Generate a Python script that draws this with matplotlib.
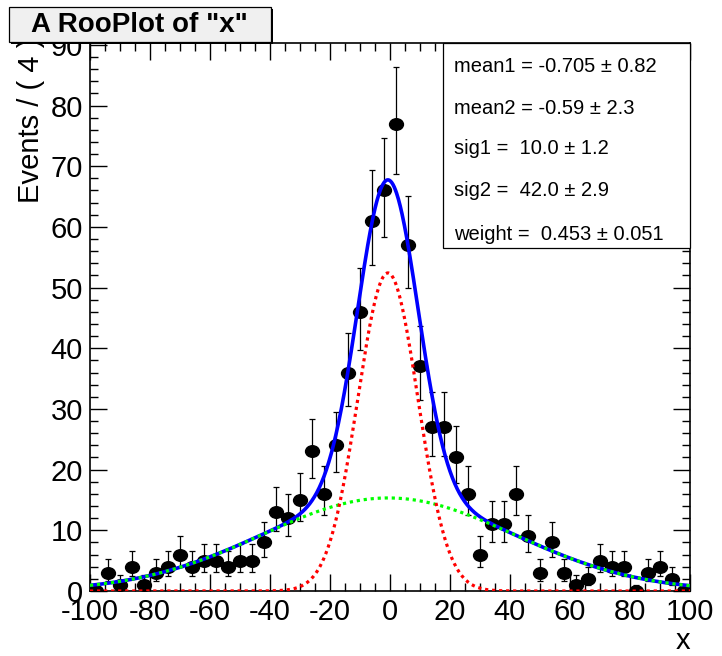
import math
import numpy as np
import matplotlib
matplotlib.use("Agg")
import matplotlib.pyplot as plt
from matplotlib.patches import Rectangle
from matplotlib.path import Path
from matplotlib.transforms import Affine2D
from matplotlib.ticker import MultipleLocator

plt.rcParams['font.family'] = ['Liberation Sans', 'DejaVu Sans']
plt.rcParams['axes.unicode_minus'] = False

# binned data: 50 bins of width 4 on [-100, 100]
bin_lo = -100
bin_width = 4
counts = [0, 3, 1, 4, 1, 3, 4, 6, 4, 5,
          5, 4, 5, 5, 8, 13, 12, 15, 23, 16,
          24, 36, 46, 61, 66, 77, 57, 37, 27, 27,
          22, 16, 6, 11, 11, 16, 9, 3, 8, 3,
          1, 2, 5, 4, 4, 0, 3, 4, 2, 0]

# fit results shown in the box
mean1, mean1_err = -0.705, 0.82
mean2, mean2_err = -0.59, 2.3
sig1, sig1_err = 10.0, 1.2
sig2, sig2_err = 42.0, 2.9
weight, weight_err = 0.453, 0.051

param_lines = [
    "mean1 = %.3f \u00b1 %.2f" % (mean1, mean1_err),
    "mean2 = %.2f \u00b1 %.1f" % (mean2, mean2_err),
    "sig1 =  %.1f \u00b1 %.1f" % (sig1, sig1_err),
    "sig2 =  %.1f \u00b1 %.1f" % (sig2, sig2_err),
    "weight =  %.3f \u00b1 %.3f" % (weight, weight_err),
]


def gauss_pdf(x, mu, s, lo=-100.0, hi=100.0):
    # gaussian normalised on the plot range
    norm = 0.5 * (math.erf((hi - mu) / (s * math.sqrt(2))) - math.erf((lo - mu) / (s * math.sqrt(2))))
    return np.exp(-0.5 * ((x - mu) / s) ** 2) / (s * math.sqrt(2 * math.pi)) / norm


def main():
    n = np.array(counts, dtype=float)
    centers = bin_lo + bin_width / 2 + bin_width * np.arange(len(counts))
    err_up = 0.5 + np.sqrt(n + 0.25)
    err_dn = np.sqrt(n + 0.25) - 0.5
    total = n.sum()

    xs = np.linspace(-100, 100, 1001)
    g1 = total * bin_width * weight * gauss_pdf(xs, mean1, sig1)
    g2 = total * bin_width * (1 - weight) * gauss_pdf(xs, mean2, sig2)

    fig = plt.figure(figsize=(7.22, 6.56), dpi=100)
    W, H = 722.0, 656.0
    ax = fig.add_axes([90 / W, 1 - 591 / H, 600 / W, 548 / H])

    ell = Path.unit_circle().transformed(Affine2D().scale(1.2, 1.0))
    ax.errorbar(centers, n, yerr=[err_dn, err_up], fmt='none', ecolor='black',
                elinewidth=0.9, capsize=2, capthick=0.9, zorder=2)
    ax.errorbar(centers, n, xerr=bin_width / 2, fmt='none', ecolor='black',
                elinewidth=0.9, capsize=0, zorder=2)
    ax.plot(centers, n, linestyle='none', marker=ell, markersize=10,
            color='black', zorder=2.5)

    ax.plot(xs, g1 + g2, color='#0000ff', lw=2.6, zorder=3)
    ax.plot(xs, g1, color='#ff0000', lw=2.3, linestyle=(0, (1, 1.2)), zorder=3.2)
    ax.plot(xs, g2, color='#00ff00', lw=2.3, linestyle=(0, (1, 1.2)), zorder=3.1)

    ax.set_xlim(-100, 100)
    ax.set_ylim(0, 90.3)
    ax.xaxis.set_major_locator(MultipleLocator(20))
    ax.xaxis.set_minor_locator(MultipleLocator(5))
    ax.yaxis.set_major_locator(MultipleLocator(10))
    ax.yaxis.set_minor_locator(MultipleLocator(2))
    ax.tick_params(which='both', direction='in', top=True, right=True,
                   labelsize=21, width=1.0, pad=5)
    ax.tick_params(which='major', length=12)
    ax.tick_params(which='minor', length=6)
    for sp in ax.spines.values():
        sp.set_linewidth(1.2)

    # parameter box
    fig.patches.append(Rectangle((443 / W, 1 - 248 / H), 247 / W, 205 / H,
                                 transform=fig.transFigure, facecolor='white',
                                 edgecolor='black', lw=0.9, zorder=10))
    for line, ypx in zip(param_lines, [66, 108, 149, 191, 234]):
        fig.text(454 / W, 1 - ypx / H, line, fontsize=14.5, ha='left', va='center', zorder=11)

    # axis titles
    fig.text(31 / W, 1 - 38 / H, "Events / ( 4 )", rotation=90, fontsize=21,
             ha='center', va='top', zorder=5)
    fig.text(690 / W, 1 - 641 / H, "x", fontsize=21, ha='right', va='center')

    # title box with shadow
    fig.patches.append(Rectangle((11 / W, 1 - 44 / H), 262 / W, 35 / H,
                                 transform=fig.transFigure, facecolor='black',
                                 edgecolor='black', lw=0, zorder=20))
    fig.patches.append(Rectangle((9 / W, 1 - 42 / H), 262 / W, 35 / H,
                                 transform=fig.transFigure, facecolor='#f0f0f0',
                                 edgecolor='black', lw=0.9, zorder=21))
    fig.text(139 / W, 1 - 25 / H, 'A RooPlot of "x"', fontsize=20, fontweight='bold',
             ha='center', va='center', zorder=22)

    fig.savefig('out.png', dpi=100)


if __name__ == '__main__':
    main()
